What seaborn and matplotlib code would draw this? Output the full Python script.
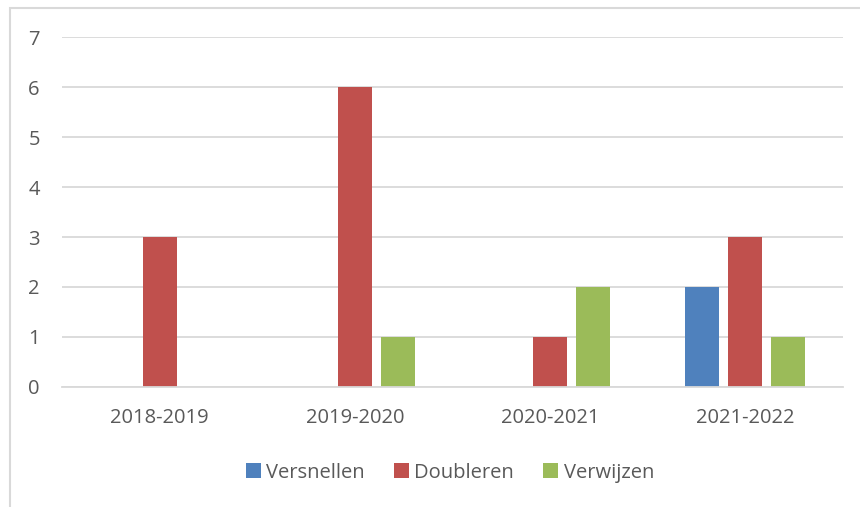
import pandas as pd
import matplotlib.pyplot as plt
import seaborn as sns
from matplotlib.patches import Rectangle

# data
years = ["2018-2019", "2019-2020", "2020-2021", "2021-2022"]
versnellen = [0, 0, 0, 2]
doubleren = [3, 6, 1, 3]
verwijzen = [0, 1, 2, 1]
series = ["Versnellen", "Doubleren", "Verwijzen"]
colors = ["#4f81bd", "#c0504d", "#9bbb59"]

df = pd.DataFrame({"Jaar": years, "Versnellen": versnellen,
                   "Doubleren": doubleren, "Verwijzen": verwijzen})
long = df.melt(id_vars="Jaar", var_name="Reeks", value_name="Aantal")

sns.set_theme(style="white")
plt.rcParams["font.family"] = ["Open Sans", "DejaVu Sans"]

fig = plt.figure(figsize=(8.6, 5.07), dpi=100)
ax = fig.add_axes([0.0721, 0.2367, 0.908, 0.6903])

sns.barplot(data=long, x="Jaar", y="Aantal", hue="Reeks", hue_order=series,
            palette=colors, saturation=1, width=0.66, gap=0.21, linewidth=0, ax=ax)

ax.set_ylim(0, 7)
ax.set_xlim(-0.5, 3.5)
ax.set_yticks(range(0, 8))
ax.yaxis.grid(True, color="#d9d9d9", linewidth=1.3)
ax.set_axisbelow(True)
for s in ["top", "right", "left"]:
    ax.spines[s].set_visible(False)
ax.spines["bottom"].set_color("#d9d9d9")
ax.spines["bottom"].set_linewidth(1.3)
ax.set_xlabel("")
ax.set_ylabel("")
ax.tick_params(axis="both", length=0, labelsize=14.5, colors="#595959")
ax.tick_params(axis="y", pad=16)
ax.tick_params(axis="x", pad=15)

leg = ax.legend(loc="upper center", bbox_to_anchor=(0.497, -0.165), ncol=3,
                frameon=False, fontsize=14.5, handlelength=0.75, handleheight=0.75,
                handletextpad=0.25, columnspacing=1.45)
for t in leg.get_texts():
    t.set_color("#595959")

# chart border like in the original
fig.patches.append(Rectangle((10 / 860, -0.1), 1.0, 1 - 7.5 / 507 + 0.1,
                             transform=fig.transFigure, fill=False,
                             edgecolor="#d9d9d9", linewidth=1.5))

fig.savefig("out.png", dpi=100)
